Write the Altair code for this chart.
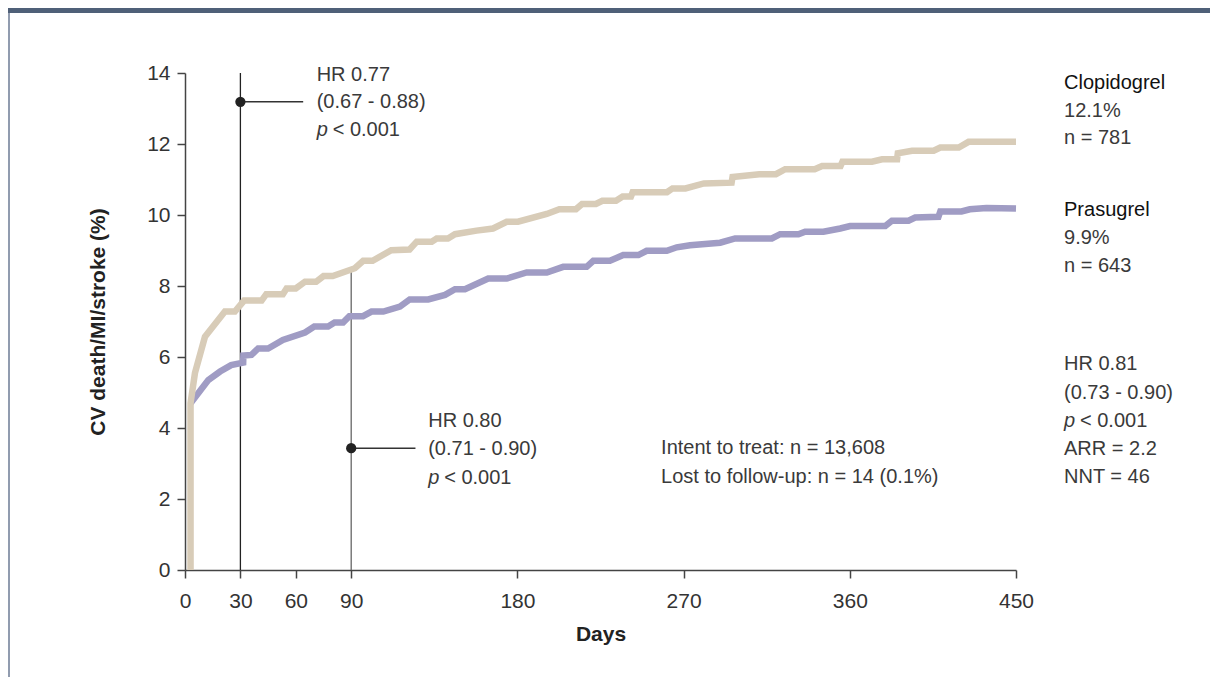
import altair as alt
import pandas as pd

FONT = "Liberation Sans Narrow, Liberation Sans, Arial, sans-serif"
BEIGE = "#d8ccb8"
PURPLE = "#a09cc4"
FS = 20

# ---- data ----
clop_days = [3, 3, 5.4, 10.8, 21.6, 27, 32, 41.5, 44, 53, 55, 60, 65, 71, 75, 80, 92, 96.5, 101.6,
             111.7, 121.6, 125.5, 133.6, 136.3, 142.4, 146.2, 157.9, 166.8, 174.2, 180.3, 195.9,
             202.7, 211.7, 215, 222.5, 226, 233.4, 237, 241.5, 242.4, 261, 264, 271, 281, 296,
             296.5, 311, 320, 325, 341, 345, 355, 356, 372, 377.5, 385.6, 386, 393.7, 405.4, 409,
             419, 424.3, 450]
clop_vals = [0, 4.7, 5.55, 6.57, 7.28, 7.28, 7.59, 7.59, 7.77, 7.77, 7.93, 7.93, 8.12, 8.12, 8.28,
             8.28, 8.5, 8.71, 8.71, 9.01, 9.03, 9.25, 9.25, 9.34, 9.34, 9.46, 9.56, 9.62, 9.81,
             9.81, 10.03, 10.16, 10.16, 10.31, 10.31, 10.4, 10.4, 10.52, 10.52, 10.64, 10.64,
             10.75, 10.75, 10.89, 10.91, 11.07, 11.15, 11.15, 11.29, 11.29, 11.38, 11.38, 11.5,
             11.5, 11.57, 11.57, 11.74, 11.81, 11.81, 11.9, 11.9, 12.06, 12.06]

pras_days = [3, 12.6, 19, 25, 31.5, 31.6, 36, 39.6, 45, 53, 65, 70, 77.5, 81, 85.6, 89, 96.4, 101,
             107.4, 116.4, 121.7, 131.7, 140.8, 146.2, 151.6, 164.2, 174.2, 185, 195.9, 204.8,
             217.5, 221.1, 230.1, 237.3, 245.5, 250, 260.9, 266.3, 273.5, 289.8, 297.9, 317.8,
             322.3, 332.2, 335.8, 345.7, 354.8, 360.2, 379.2, 382.8, 391.8, 395.4, 408, 409,
             420.5, 425, 434, 450]
pras_vals = [4.7, 5.35, 5.59, 5.77, 5.84, 6.04, 6.06, 6.24, 6.24, 6.48, 6.69, 6.86, 6.86, 6.97,
             6.97, 7.15, 7.15, 7.28, 7.28, 7.42, 7.62, 7.62, 7.75, 7.91, 7.91, 8.21, 8.21, 8.38,
             8.38, 8.54, 8.54, 8.71, 8.71, 8.87, 8.87, 8.99, 8.99, 9.09, 9.15, 9.22, 9.34, 9.34,
             9.46, 9.46, 9.53, 9.53, 9.62, 9.69, 9.69, 9.84, 9.84, 9.93, 9.95, 10.1, 10.1, 10.16,
             10.2, 10.18]

x_ticks = [0, 30, 60, 90, 180, 270, 360, 450]
y_ticks = [0, 2, 4, 6, 8, 10, 12, 14]

# landmark lines (30 and 90 days), hazard ratio markers
mark_days = [30, 90]
mark_tops = [14, 8.4]
dot_vals = [13.19, 3.43]
dot_ends = [64, 124.8]

# annotation text (plain)
ann_text = ["HR 0.77", "(0.67 - 0.88)",
            "HR 0.80", "(0.71 - 0.90)",
            "Intent to treat: n = 13,608", "Lost to follow-up: n = 14 (0.1%)",
            "12.1%", "n = 781", "9.9%", "n = 643",
            "HR 0.81", "(0.73 - 0.90)", "ARR = 2.2", "NNT = 46"]
ann_day = [71.3, 71.3, 131.7, 131.7, 257.8, 257.8, 476, 476, 476, 476, 476, 476, 476, 476]
ann_val = [13.95, 13.19, 4.2, 3.4, 3.44, 2.62, 12.93, 12.17, 9.35, 8.56, 5.8, 4.99, 3.41, 2.62]

# p-value lines (italic p)
p_day = [71.3, 131.7, 476]
p_val = [12.39, 2.6, 4.2]
p_rest = ["< 0.001", "< 0.001", "< 0.001"]

# group labels
grp_text = ["Clopidogrel", "Prasugrel"]
grp_val = [13.72, 10.14]
grp_day = [476, 476]

# ---- tables ----
clop = pd.DataFrame({"day": clop_days, "val": clop_vals, "i": range(len(clop_days))})
pras = pd.DataFrame({"day": pras_days, "val": pras_vals, "i": range(len(pras_days))})
marks = pd.DataFrame({"day": mark_days, "top": mark_tops, "zero": [0, 0],
                      "dot": dot_vals, "end": dot_ends, "c": ["#222222", "#666666"]})
ann = pd.DataFrame({"t": ann_text, "day": ann_day, "val": ann_val})
pv = pd.DataFrame({"day": p_day, "val": p_val, "p": ["p"] * 3, "rest": p_rest})
grp = pd.DataFrame({"t": grp_text, "day": grp_day, "val": grp_val})

xs = alt.Scale(domain=[0, 450], nice=False)
ys = alt.Scale(domain=[0, 14], nice=False)

X = alt.X("day:Q", scale=xs, axis=alt.Axis(values=x_ticks, title="Days"))
Y = alt.Y("val:Q", scale=ys, axis=alt.Axis(values=y_ticks, title="CV death/MI/stroke (%)"))

base_axis = dict(grid=False, domainColor="#444444", domainWidth=1.5, tickColor="#444444",
                 tickWidth=1.5, tickSize=8, labelColor="#333333", labelFontSize=21,
                 labelFont=FONT, titleFont=FONT, titleFontSize=21, titleFontWeight="bold",
                 titleColor="#222222", labelFlush=False)

vrules = alt.Chart(marks).mark_rule(strokeWidth=1.3).encode(
    x=X, y=alt.Y("zero:Q", scale=ys), y2="top:Q", color=alt.Color("c:N", scale=None))

hrules = alt.Chart(marks).mark_rule(strokeWidth=1.5, color="#333333").encode(
    x=alt.X("day:Q", scale=xs), x2="end:Q", y=alt.Y("dot:Q", scale=ys))

dots = alt.Chart(marks).mark_circle(size=105, opacity=1, color="#222222").encode(
    x=alt.X("day:Q", scale=xs), y=alt.Y("dot:Q", scale=ys))

pras_line = alt.Chart(pras).mark_line(color=PURPLE, strokeWidth=6.5, strokeJoin="miter").encode(
    x=X, y=Y, order="i:Q")
clop_line = alt.Chart(clop).mark_line(color=BEIGE, strokeWidth=6.5, strokeJoin="miter").encode(
    x=X, y=Y, order="i:Q")

txt = alt.Chart(ann).mark_text(align="left", baseline="middle", font=FONT, fontSize=FS,
                               color="#3a3a3a").encode(
    x=alt.X("day:Q", scale=xs), y=alt.Y("val:Q", scale=ys), text="t:N")

ptxt = alt.Chart(pv).mark_text(align="left", baseline="middle", font=FONT, fontSize=FS,
                               fontStyle="italic", color="#3a3a3a").encode(
    x=alt.X("day:Q", scale=xs), y=alt.Y("val:Q", scale=ys), text="p:N")
rtxt = alt.Chart(pv).mark_text(align="left", baseline="middle", font=FONT, fontSize=FS,
                               dx=16, color="#3a3a3a").encode(
    x=alt.X("day:Q", scale=xs), y=alt.Y("val:Q", scale=ys), text="rest:N")

gtxt = alt.Chart(grp).mark_text(align="left", baseline="middle", font=FONT, fontSize=FS,
                                fontWeight=500, color="#111111").encode(
    x=alt.X("day:Q", scale=xs), y=alt.Y("val:Q", scale=ys), text="t:N")

header = alt.Chart(grp).mark_rect(color="#4f6078").encode(
    x=alt.value(-177), x2=alt.value(1025), y=alt.value(-65), y2=alt.value(-60))
border = alt.Chart(grp).mark_rule(color="#8a96aa", strokeWidth=1.5).encode(
    x=alt.value(-176), y=alt.value(-60), y2=alt.value(610))

chart = alt.layer(header, border, vrules, hrules, pras_line, clop_line, dots,
                  txt, ptxt, rtxt, gtxt).properties(
    width=831, height=497,
    padding={"left": 177, "top": 65, "right": 194, "bottom": 107},
    autosize=alt.AutoSizeParams(type="none"),
).configure(font=FONT).configure_view(stroke=None).configure_axisX(
    labelPadding=12, titlePadding=12, **base_axis
).configure_axisY(
    labelPadding=7, titlePadding=38, **base_axis
)

chart.save("out.html", embed_options={"renderer": "svg", "actions": False})
